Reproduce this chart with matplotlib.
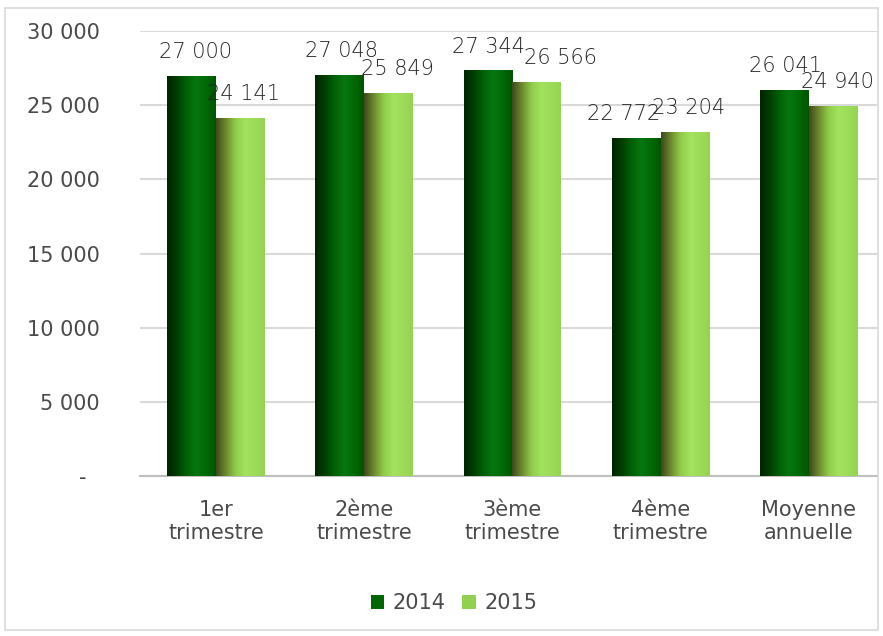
import matplotlib.pyplot as plt
import numpy as np
from matplotlib.colors import LinearSegmentedColormap
from matplotlib.patches import Rectangle

categories = ["1er\ntrimestre", "2ème\ntrimestre", "3ème\ntrimestre", "4ème\ntrimestre", "Moyenne\nannuelle"]
values_2014 = [27000, 27048, 27344, 22772, 26041]
values_2015 = [24141, 25849, 26566, 23204, 24940]
labels_2014 = ["27 000", "27 048", "27 344", "22 772", "26 041"]
labels_2015 = ["24 141", "25 849", "26 566", "23 204", "24 940"]
yticks = [0, 5000, 10000, 15000, 20000, 25000, 30000]
ytick_labels = ["-  ", "5 000", "10 000", "15 000", "20 000", "25 000", "30 000"]

# small horizontal nudges (px) of the data labels, as Excel placed them
nudge_2014 = [4, 2, 1, -13, 1]
nudge_2015 = [3, 9, 24, 3, 4]

TEXT = "#4a4a4a"
LABEL = "#262626"
FONT = ["DejaVu Sans"]

dark_cmap = LinearSegmentedColormap.from_list(
    "dark", ["#002400", "#003f00", "#006206", "#087610", "#006a06", "#005400"])
light_cmap = LinearSegmentedColormap.from_list(
    "light", ["#3f4a1c", "#6f8a30", "#8fcc4a", "#a2e25e", "#9ddc58", "#94d452"])


def shade(ax, patches, cmap):
    grad = np.linspace(0, 1, 64).reshape(1, -1)
    for p in patches:
        x0, y0 = p.get_x(), p.get_y()
        w, h = p.get_width(), p.get_height()
        im = ax.imshow(grad, cmap=cmap, aspect="auto", interpolation="bicubic",
                       extent=(x0, x0 + w, y0, y0 + h), zorder=3)
        im.set_clip_path(p)


def main():
    fig = plt.figure(figsize=(8.83, 6.36), dpi=100)
    fig.patches.append(Rectangle((5 / 883, 6 / 636), 873 / 883, 622 / 636,
                                 transform=fig.transFigure, fill=False,
                                 edgecolor="#d9d9d9", linewidth=1.2))
    ax = fig.add_axes([140 / 883, 1 - 476 / 636, 737 / 883, 445 / 636])

    x = np.arange(len(categories))
    w = 0.33
    b1 = ax.bar(x - w / 2, values_2014, w, color="#006600", zorder=2, label="2014")
    b2 = ax.bar(x + w / 2, values_2015, w, color="#92d050", zorder=2, label="2015")
    shade(ax, b1, dark_cmap)
    shade(ax, b2, light_cmap)

    for xi, v, t, n in zip(x - w / 2, values_2014, labels_2014, nudge_2014):
        ax.annotate(t, (xi, v), xytext=(n * 0.72, 10), textcoords="offset points",
                    ha="center", va="bottom", fontsize=15, color=LABEL,
                    family=FONT, fontweight="light", zorder=5)
    for xi, v, t, n in zip(x + w / 2, values_2015, labels_2015, nudge_2015):
        ax.annotate(t, (xi, v), xytext=(n * 0.72, 10), textcoords="offset points",
                    ha="center", va="bottom", fontsize=15, color=LABEL,
                    family=FONT, fontweight="light", zorder=5)

    ax.set_xlim(-0.513, 4.46)
    ax.set_ylim(0, 30000)
    ax.set_yticks(yticks)
    ax.set_yticklabels(ytick_labels, fontsize=15, color=TEXT, family=FONT)
    ax.set_xticks(x)
    ax.set_xticklabels(categories, fontsize=15, color=TEXT, family=FONT, linespacing=1.2)
    ax.tick_params(axis="y", length=0, pad=29)
    ax.tick_params(axis="x", length=0, pad=17)
    ax.grid(axis="y", color="#d9d9d9", linewidth=1.5, zorder=0)
    for s in ["top", "right", "left"]:
        ax.spines[s].set_visible(False)
    ax.spines["bottom"].set_color("#bfbfbf")
    ax.spines["bottom"].set_linewidth(1.5)

    fig.legend(handles=[b1, b2], labels=["2014", "2015"], loc="center",
               bbox_to_anchor=(0.514, 0.052), ncol=2, frameon=False,
               handlelength=0.65, handleheight=0.65, handletextpad=0.4,
               columnspacing=0.8, prop={"family": FONT, "size": 15},
               labelcolor=TEXT)

    fig.savefig("out.png", dpi=100)


if __name__ == "__main__":
    main()
